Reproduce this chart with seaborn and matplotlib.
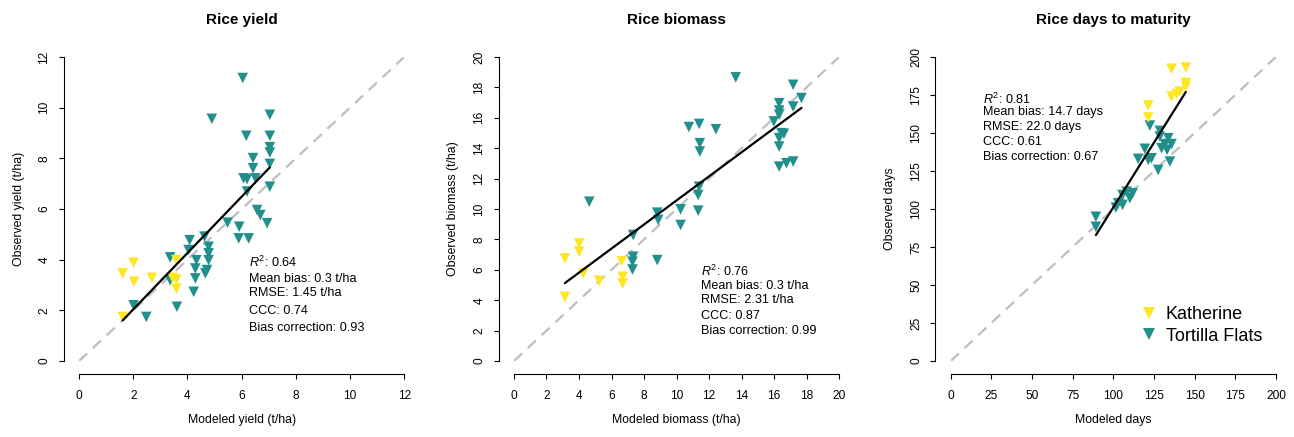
import numpy as np
import pandas as pd
import matplotlib
matplotlib.use('Agg')
import matplotlib.pyplot as plt
import seaborn as sns

# Produtividade (t/ha)
kath_yield_mod = [1.61, 2.01, 2.03, 2.69, 3.59, 3.45, 3.59, 3.59, 1.61]
kath_yield_obs = [3.46, 3.88, 3.13, 3.28, 3.98, 3.28, 3.22, 2.86, 1.74]
tf_yield_mod = [6.04, 4.90, 7.04, 6.17, 7.04, 7.04, 7.04, 6.42, 6.42, 7.04, 6.07, 6.20, 6.51,
                6.20, 7.04, 6.57, 6.69, 6.94, 5.48, 5.91, 5.89, 6.26, 4.08, 4.63, 4.78, 4.78,
                4.78, 4.72, 4.66, 4.33, 4.29, 4.29, 4.23, 4.04, 3.36, 3.36, 3.61, 2.01, 2.48]
tf_yield_obs = [11.17, 9.56, 9.72, 8.89, 8.89, 8.44, 8.23, 8.01, 7.61, 7.78, 7.21, 7.18, 7.21,
                6.69, 6.88, 5.96, 5.76, 5.44, 5.46, 5.30, 4.84, 4.84, 4.77, 4.91, 4.51, 4.25,
                3.98, 3.59, 3.46, 3.98, 3.65, 3.26, 2.73, 4.38, 4.09, 3.19, 2.14, 2.20, 1.74]

# Biomassa (t/ha)
kath_bio_mod = [3.13, 4.01, 4.01, 4.26, 5.24, 6.62, 6.68, 6.68, 3.13]
kath_bio_obs = [6.75, 7.74, 7.19, 5.76, 5.27, 6.57, 5.54, 5.10, 4.22]
tf_bio_mod = [13.64, 17.17, 17.68, 17.17, 16.31, 16.31, 16.31, 15.98, 16.45, 16.60, 16.31,
              16.31, 16.31, 16.76, 17.17, 10.76, 11.39, 12.42, 11.43, 11.43, 11.39, 11.33,
              11.33, 10.25, 10.25, 8.81, 8.87, 8.81, 7.33, 7.33, 7.29, 7.29, 4.63]
tf_bio_obs = [18.66, 18.17, 17.30, 16.74, 16.96, 16.48, 16.20, 15.76, 14.99, 14.95, 14.66,
              14.11, 12.79, 13.01, 13.12, 15.39, 15.60, 15.25, 14.33, 13.78, 11.47, 10.92,
              9.89, 9.98, 8.95, 9.76, 9.28, 6.64, 8.29, 6.86, 6.53, 6.02, 10.48]

# Dias até a maturidade
kath_days_mod = [135.8, 144.6, 144.6, 144.6, 135.8, 138.9, 140.9, 121.5, 121.5]
kath_days_obs = [192.3, 193.1, 182.9, 180.6, 174.0, 175.6, 177.3, 168.1, 160.2]
tf_days_mod = [122.5, 128.6, 128.6, 133.8, 131.7, 135.8, 129.7, 133.1, 119.4, 115.3, 121.5,
               123.5, 127.6, 134.8, 108.2, 105.7, 110.2, 103.0, 101.6, 105.7, 89.3, 89.3, 111.9]
tf_days_obs = [154.9, 151.4, 147.7, 146.6, 142.7, 142.7, 140.0, 138.9, 139.6, 133.0, 132.3,
               133.4, 125.7, 131.2, 111.4, 109.2, 107.1, 103.8, 100.9, 102.7, 94.9, 88.3, 110.3]

sites = ['Katherine', 'Tortilla Flats']
site_colors = {'Katherine': '#FDE725', 'Tortilla Flats': '#21908C'}

titles = ['Rice yield', 'Rice biomass', 'Rice days to maturity']
xlabels = ['Modeled yield (t/ha)', 'Modeled biomass (t/ha)', 'Modeled days']
ylabels = ['Observed yield (t/ha)', 'Observed biomass (t/ha)', 'Observed days']
axis_max = [12, 20, 200]
tick_step = [2, 2, 25]

stats_text = [
    ['$R^2$: 0.64', 'Mean bias: 0.3 t/ha', 'RMSE: 1.45 t/ha', 'CCC: 0.74', 'Bias correction: 0.93'],
    ['$R^2$: 0.76', 'Mean bias: 0.3 t/ha', 'RMSE: 2.31 t/ha', 'CCC: 0.87', 'Bias correction: 0.99'],
    ['$R^2$: 0.81', 'Mean bias: 14.7 days', 'RMSE: 22.0 days', 'CCC: 0.61', 'Bias correction: 0.67'],
]
# posição do texto (fração dos eixos)
stats_x = [0.523, 0.575, 0.098]
stats_y = [[0.323, 0.269, 0.223, 0.165, 0.108],
           [0.294, 0.246, 0.200, 0.147, 0.098],
           [0.861, 0.820, 0.769, 0.719, 0.672]]


def make_df(k_mod, k_obs, t_mod, t_obs):
    d1 = pd.DataFrame({'modeled': t_mod, 'observed': t_obs, 'site': 'Tortilla Flats'})
    d2 = pd.DataFrame({'modeled': k_mod, 'observed': k_obs, 'site': 'Katherine'})
    return pd.concat([d1, d2], ignore_index=True)


panels = [make_df(kath_yield_mod, kath_yield_obs, tf_yield_mod, tf_yield_obs),
          make_df(kath_bio_mod, kath_bio_obs, tf_bio_mod, tf_bio_obs),
          make_df(kath_days_mod, kath_days_obs, tf_days_mod, tf_days_obs)]

sns.set_theme(style='white')
plt.rcParams['font.family'] = ['Liberation Sans', 'DejaVu Sans']
plt.rcParams['mathtext.fontset'] = 'custom'
plt.rcParams['mathtext.rm'] = 'Liberation Sans'
plt.rcParams['mathtext.it'] = 'Liberation Sans:italic'
for key in ['text.color', 'axes.labelcolor', 'xtick.color', 'ytick.color']:
    plt.rcParams[key] = 'black'

fig = plt.figure(figsize=(12.94, 4.37), dpi=100)
lefts = [0.0611, 0.3972, 0.7347]

for i, df in enumerate(panels):
    ax = fig.add_axes([lefts[i], 0.1739, 0.2513, 0.6957])
    show_legend = (i == 2)
    sns.scatterplot(data=df, x='modeled', y='observed', hue='site', hue_order=sites,
                    palette=site_colors, marker='v', s=58, linewidth=0,
                    legend=show_legend, ax=ax, zorder=3)
    # linha 1:1
    ax.axline((0, 0), slope=1, color='#BEBEBE', lw=1.6, linestyle=(0, (5, 3.5)), zorder=1)
    # regressão linear
    sns.regplot(data=df, x='modeled', y='observed', scatter=False, ci=None, truncate=True,
                color='black', line_kws={'lw': 1.6, 'zorder': 4}, ax=ax)

    m = axis_max[i]
    ax.set_xlim(0, m)
    ax.set_ylim(0, m)
    ticks = np.arange(0, m + tick_step[i], tick_step[i])
    ax.set_xticks(ticks)
    ax.set_yticks(ticks)
    sns.despine(ax=ax, offset={'left': 11, 'bottom': 9.5}, trim=True)
    for side in ['left', 'bottom']:
        ax.spines[side].set_linewidth(0.8)
        ax.spines[side].set_color('black')
    ax.tick_params(axis='both', direction='out', length=3.6, width=0.8, color='black',
                   labelsize=8.6, pad=7.5, left=True, bottom=True)
    ax.tick_params(axis='y', pad=6)
    plt.setp(ax.get_yticklabels(), rotation=90, va='center')

    ax.set_xlabel(xlabels[i], fontsize=8.8, labelpad=9)
    ax.set_ylabel(ylabels[i], fontsize=8.8, labelpad=10)
    ax.set_title(titles[i], fontsize=11, fontweight='bold', pad=23.5)

    for txt, yy in zip(stats_text[i], stats_y[i]):
        ax.text(stats_x[i], yy, txt, transform=ax.transAxes, fontsize=9.1,
                ha='left', va='center')

    if show_legend:
        ax.legend(loc='lower right', bbox_to_anchor=(0.98, 0.03), frameon=False,
                  fontsize=13, handlelength=1.7, handletextpad=0.1, labelspacing=0.25,
                  borderaxespad=0, markerscale=1.1, title=None)

plt.savefig('out.png', dpi=100)
